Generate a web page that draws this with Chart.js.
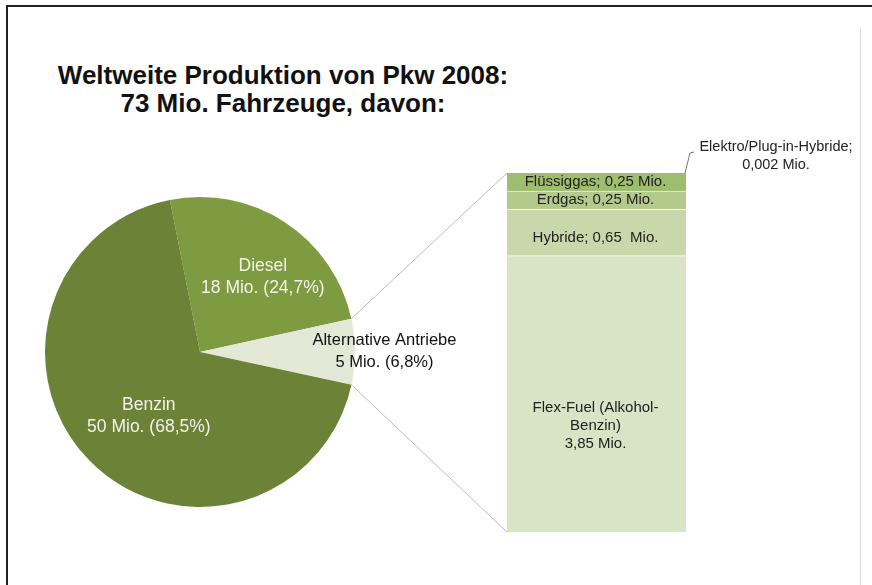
<!DOCTYPE html>
<html>
<head>
<meta charset="utf-8">
<script src="https://cdn.jsdelivr.net/npm/chart.js@4.4.1/dist/chart.umd.min.js"></script>
<style>
  body { margin: 0; background: #fff; font-family: "Liberation Sans", Arial, sans-serif; }
  #wrap { position: relative; width: 872px; height: 585px; overflow: hidden; }
  #wrap canvas { position: absolute; left: 0; top: 0; }
  .frameTop { position: absolute; left: 6px; top: 5px; width: 866px; height: 2px; background: #222; }
  .frameLeft { position: absolute; left: 6px; top: 5px; width: 2px; height: 580px; background: #222; }
  .rightLine { position: absolute; left: 860px; top: 28px; width: 1px; height: 557px; background: #ddd; }
  #title { position: absolute; left: 0; top: 61px; width: 566px; text-align: center;
           font-weight: bold; font-size: 26px; line-height: 28px; color: #111; }
</style>
</head>
<body>
<div id="wrap">
  <div class="frameTop"></div>
  <div class="frameLeft"></div>
  <div class="rightLine"></div>
  <div id="title">Weltweite Produktion von Pkw 2008:<br>73 Mio. Fahrzeuge, davon:</div>
  <canvas id="pie" width="872" height="585"></canvas>
  <canvas id="bar" width="872" height="585"></canvas>
</div>
<script>
// Hauptkreis
var pieLabels = ["Diesel", "Alternative Antriebe", "Benzin"];
var pieValues = [18, 5, 50];
var pieTexts = [["Diesel", "18 Mio. (24,7%)"], ["Alternative Antriebe", "5 Mio. (6,8%)"], ["Benzin", "50 Mio. (68,5%)"]];
var pieColors = ["#7f9b41", "#e3e9d6", "#6b8237"];

// Aufteilung alternative Antriebe (von unten nach oben)
var altLabels = ["Flex-Fuel", "Hybride", "Erdgas", "Flüssiggas", "Elektro/Plug-in-Hybride"];
var altValues = [3.85, 0.65, 0.25, 0.25, 0.002];
var altTexts = [["Flex-Fuel (Alkohol-", "Benzin)", "3,85 Mio."], ["Hybride; 0,65  Mio."], ["Erdgas; 0,25 Mio."], ["Flüssiggas; 0,25 Mio."], ["Elektro/Plug-in-Hybride;", "0,002 Mio."]];
var altColors = ["#d8e4c6", "#c9d8ab", "#b3ca8c", "#9fbd6e", "#8fb05a"];

var FONT = "Liberation Sans, Arial, sans-serif";

var pieLabelPlugin = {
  id: "pieLabels",
  afterDatasetsDraw: function(chart) {
    var ctx = chart.ctx;
    var meta = chart.getDatasetMeta(0);
    var radFactor = [0.632, 1.19, 0.53];
    var angShift = [6.7, 0, -7];
    var sizes = [17.5, 16.5, 17.5];
    ctx.save();
    ctx.textAlign = "center";
    ctx.textBaseline = "middle";
    meta.data.forEach(function(arc, i) {
      var a = (arc.startAngle + arc.endAngle) / 2 + angShift[i] * Math.PI / 180;
      var r = arc.outerRadius * radFactor[i];
      var x = arc.x + Math.cos(a) * r;
      var y = arc.y + Math.sin(a) * r;
      ctx.font = sizes[i] + "px " + FONT;
      ctx.fillStyle = i == 1 ? "#111" : "#f2f2ea";
      var lines = pieTexts[i];
      for (var j = 0; j < lines.length; j++) {
        ctx.fillText(lines[j], x, y + (j - (lines.length - 1) / 2) * 22);
      }
    });
    ctx.restore();
  }
};

var pieChart = new Chart(document.getElementById("pie"), {
  type: "pie",
  data: {
    labels: pieLabels,
    datasets: [{ data: pieValues, backgroundColor: pieColors, borderWidth: 0 }]
  },
  options: {
    responsive: false,
    animation: false,
    rotation: -11.2,
    layout: { padding: { left: 45, right: 517, top: 197, bottom: 78 } },
    plugins: { legend: { display: false }, tooltip: { enabled: false } }
  },
  plugins: [pieLabelPlugin]
});

var barPlugin = {
  id: "barLabels",
  afterDatasetsDraw: function(chart) {
    var ctx = chart.ctx;
    ctx.save();
    // Verbindungslinien vom Kreissegment zur Säule
    var alt = pieChart.getDatasetMeta(0).data[1];
    var bottomBar = chart.getDatasetMeta(0).data[0];
    var topBar = chart.getDatasetMeta(altValues.length - 1).data[0];
    var left = bottomBar.x - bottomBar.width / 2;
    var right = bottomBar.x + bottomBar.width / 2;
    ctx.strokeStyle = "#bdbdbd";
    ctx.lineWidth = 1;
    ctx.beginPath();
    ctx.moveTo(alt.x + Math.cos(alt.startAngle) * alt.outerRadius, alt.y + Math.sin(alt.startAngle) * alt.outerRadius);
    ctx.lineTo(left, topBar.y);
    ctx.moveTo(alt.x + Math.cos(alt.endAngle) * alt.outerRadius, alt.y + Math.sin(alt.endAngle) * alt.outerRadius);
    ctx.lineTo(left, bottomBar.base);
    ctx.stroke();
    // Führungslinie Elektro
    ctx.strokeStyle = "#777";
    ctx.beginPath();
    ctx.moveTo(right - 1, topBar.y);
    ctx.lineTo(right + 4, topBar.y - 20);
    ctx.lineTo(right + 8, topBar.y - 21);
    ctx.stroke();

    ctx.textAlign = "center";
    ctx.textBaseline = "middle";
    ctx.fillStyle = "#222";
    for (var i = 0; i < altValues.length; i++) {
      var el = chart.getDatasetMeta(i).data[0];
      var lines = altTexts[i];
      var cx = el.x - 1, cy = (el.y + el.base) / 2;
      ctx.font = "15px " + FONT;
      if (i == 0) { cy = el.y + 170; }
      if (i == 1) { cy += 6; }
      if (i == 4) { cx = right + 90; cy = topBar.y - 17; ctx.font = "14.5px " + FONT; }
      for (var j = 0; j < lines.length; j++) {
        ctx.fillText(lines[j], cx, cy + (j - (lines.length - 1) / 2) * 18);
      }
    }
    ctx.restore();
  }
};

var barDatasets = [];
for (var i = 0; i < altValues.length; i++) {
  barDatasets.push({
    label: altLabels[i],
    data: [altValues[i]],
    backgroundColor: altColors[i],
    borderColor: "rgba(255,255,255,0.55)",
    borderWidth: { top: i < 3 ? 1 : 0, left: 0, right: 0, bottom: 0 },
    borderSkipped: false,
    barPercentage: 1,
    categoryPercentage: 1
  });
}

var barChart = new Chart(document.getElementById("bar"), {
  type: "bar",
  data: { labels: ["Alternative Antriebe"], datasets: barDatasets },
  options: {
    responsive: false,
    animation: false,
    layout: { padding: { left: 507, right: 186, top: 173, bottom: 53 } },
    scales: {
      x: { stacked: true, display: false },
      y: { stacked: true, display: false, min: 0, max: 5.002 }
    },
    plugins: { legend: { display: false }, tooltip: { enabled: false } }
  },
  plugins: [barPlugin]
});
</script>
</body>
</html>
